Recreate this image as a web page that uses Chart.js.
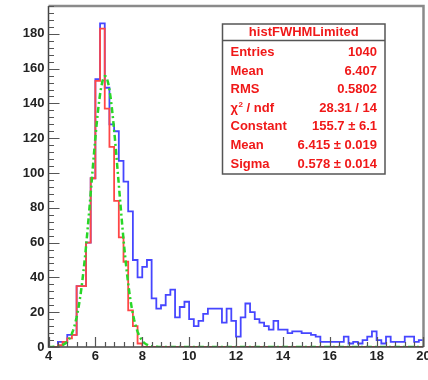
<!DOCTYPE html>
<html>
<head>
<meta charset="utf-8">
<title>histFWHMLimited</title>
<script src="https://cdn.jsdelivr.net/npm/chart.js@4.4.1/dist/chart.umd.min.js"></script>
<style>
  html, body { margin: 0; padding: 0; background: #fff; }
  canvas { display: block; }
</style>
</head>
<body>
<canvas id="histChart" width="428" height="380"></canvas>
<script>
// binning: 80 bins of 0.2 between 4 and 20
const xMin = 4;
const xMax = 20;
const binWidth = 0.2;
const yMax = 196;

// FWHM, all entries (blue)
const countsAll = [
  0, 0, 3, 3, 7,
  7, 35, 35, 60, 97,
  154, 186, 149, 128, 124,
  107, 95, 78, 50, 40,
  46, 50, 28, 22, 24,
  30, 33, 17, 23, 26,
  16, 12, 15, 19, 22,
  22, 22, 14, 22, 15,
  6, 17, 25, 20, 16,
  14, 12, 10, 15, 10,
  10, 8, 9, 9, 8,
  8, 7, 6, 3, 3,
  3, 3, 3, 6, 2,
  3, 2, 4, 6, 9,
  4, 2, 6, 3, 3,
  3, 6, 6, 3, 4
];

// FWHM, limited selection (red)
const countsLimited = [
  0, 0, 1, 3, 5,
  7, 35, 35, 60, 97,
  153, 183, 137, 115, 84,
  63, 49, 21, 12, 2,
  0, 0, 0, 0, 0, 0, 0, 0, 0, 0,
  0, 0, 0, 0, 0, 0, 0, 0, 0, 0,
  0, 0, 0, 0, 0, 0, 0, 0, 0, 0,
  0, 0, 0, 0, 0, 0, 0, 0, 0, 0,
  0, 0, 0, 0, 0, 0, 0, 0, 0, 0
];

// gaussian fit parameters
const fitConstant = 155.7;
const fitMean = 6.415;
const fitSigma = 0.578;
const fitStep = 0.05;

const xTicks = [4, 6, 8, 10, 12, 14, 16, 18, 20];
const yTicks = [0, 20, 40, 60, 80, 100, 120, 140, 160, 180];
const xMinorStep = 0.4;
const yMinorStep = 4;

const statsTitle = 'histFWHMLimited';
const statsLabels = ['Entries', 'Mean', 'RMS', 'χ2 / ndf', 'Constant', 'Mean', 'Sigma'];
const statsValues = ['1040', '6.407', '0.5802', '28.31 / 14', '155.7 ± 6.1', '6.415 ± 0.019', '0.578 ± 0.014'];

const FONT = "'Liberation Sans', Arial, Helvetica, sans-serif";

// step outline: edge points plus bin centres, stepped at the midpoints
function histPoints(counts) {
  const pts = [{ x: xMin, y: counts[0] }];
  counts.forEach((c, i) => pts.push({ x: xMin + (i + 0.5) * binWidth, y: c }));
  pts.push({ x: xMax, y: counts[counts.length - 1] });
  return pts;
}

function gausPoints() {
  const pts = [];
  const n = Math.round((xMax - xMin) / fitStep);
  for (let i = 0; i <= n; i++) {
    const x = xMin + i * fitStep;
    const t = (x - fitMean) / fitSigma;
    pts.push({ x: x, y: fitConstant * Math.exp(-0.5 * t * t) });
  }
  return pts;
}

// frame, inward tick marks and the stats box
const frameAndStats = {
  id: 'frameAndStats',
  afterDatasetsDraw(chart) {
    const { ctx, chartArea: a, scales: { x, y } } = chart;
    ctx.save();

    // top and right frame
    ctx.strokeStyle = '#8a8a8a';
    ctx.lineWidth = 2.5;
    ctx.beginPath();
    ctx.moveTo(a.left, a.top);
    ctx.lineTo(a.right, a.top);
    ctx.lineTo(a.right, a.bottom);
    ctx.stroke();

    // axes
    ctx.strokeStyle = '#444';
    ctx.lineWidth = 1.5;
    ctx.beginPath();
    ctx.moveTo(a.left, a.top);
    ctx.lineTo(a.left, a.bottom);
    ctx.lineTo(a.right, a.bottom);
    ctx.stroke();

    ctx.lineWidth = 1.2;
    ctx.strokeStyle = '#555';
    ctx.beginPath();
    for (let v = 0; v <= yMax + 1e-6; v += yMinorStep) {
      const py = Math.round(y.getPixelForValue(v)) + 0.5;
      const len = yTicks.includes(Math.round(v)) ? 11 : 5.5;
      ctx.moveTo(a.left, py);
      ctx.lineTo(a.left + len, py);
    }
    for (let v = xMin; v <= xMax + 1e-6; v += xMinorStep) {
      const px = Math.round(x.getPixelForValue(v)) + 0.5;
      const major = xTicks.some(t => Math.abs(t - v) < 1e-6);
      ctx.moveTo(px, a.bottom);
      ctx.lineTo(px, a.bottom - (major ? 10 : 5));
    }
    ctx.stroke();
    ctx.restore();
  },
  afterDraw(chart) {
    const ctx = chart.ctx;
    const bx = 222.5, by = 24, bw = 162.5, bh = 150;
    ctx.save();
    ctx.fillStyle = '#fff';
    ctx.fillRect(bx, by, bw, bh);
    ctx.strokeStyle = '#555';
    ctx.lineWidth = 1.5;
    ctx.strokeRect(bx, by, bw, bh);
    ctx.beginPath();
    ctx.moveTo(bx, by + 16.5);
    ctx.lineTo(bx + bw, by + 16.5);
    ctx.stroke();

    ctx.fillStyle = '#f01818';
    ctx.font = 'bold 13px ' + FONT;
    ctx.textBaseline = 'middle';
    ctx.textAlign = 'center';
    ctx.fillText(statsTitle, bx + bw / 2, by + 8.5);

    statsLabels.forEach((label, i) => {
      const ty = by + 28.5 + i * 18.6;
      ctx.textAlign = 'left';
      if (label.startsWith('χ2')) {
        ctx.font = 'bold 13px ' + FONT;
        ctx.fillText('χ', bx + 8, ty);
        const w = ctx.measureText('χ').width;
        ctx.font = 'bold 8px ' + FONT;
        ctx.fillText('2', bx + 8 + w + 0.5, ty - 4);
        ctx.font = 'bold 13px ' + FONT;
        ctx.fillText(label.slice(2), bx + 8 + w + 5, ty);
      } else {
        ctx.font = 'bold 13px ' + FONT;
        ctx.fillText(label, bx + 8, ty);
      }
      ctx.textAlign = 'right';
      ctx.fillText(statsValues[i], bx + bw - 8, ty);
    });
    ctx.restore();
  }
};

const tickFont = { family: FONT, size: 13, weight: 'bold' };

new Chart(document.getElementById('histChart'), {
  type: 'line',
  data: {
    datasets: [
      {
        label: 'gaus',
        data: gausPoints(),
        borderColor: 'rgb(40, 215, 40)',
        borderWidth: 2.5,
        borderDash: [6, 3, 2, 3],
        pointRadius: 0,
        tension: 0
      },
      {
        label: 'histFWHMLimited',
        data: histPoints(countsLimited),
        borderColor: 'rgb(255, 70, 70)',
        borderWidth: 1.8,
        stepped: 'middle',
        pointRadius: 0
      },
      {
        label: 'histFWHM',
        data: histPoints(countsAll),
        borderColor: 'rgb(70, 70, 255)',
        borderWidth: 1.8,
        stepped: 'middle',
        pointRadius: 0
      }
    ]
  },
  options: {
    responsive: false,
    animation: false,
    devicePixelRatio: 1,
    layout: { padding: { left: 0, right: 4.5, top: 6, bottom: 0 } },
    plugins: {
      legend: { display: false },
      tooltip: { enabled: false }
    },
    scales: {
      x: {
        type: 'linear',
        min: xMin,
        max: xMax,
        afterBuildTicks: s => { s.ticks = xTicks.map(v => ({ value: v })); },
        afterFit: s => { s.height = 33; s.paddingLeft = 0; s.paddingRight = 0; },
        ticks: { font: tickFont, color: '#222', padding: 2, maxRotation: 0, autoSkip: false },
        grid: { display: false, drawTicks: false },
        border: { display: false }
      },
      y: {
        type: 'linear',
        min: 0,
        max: yMax,
        afterBuildTicks: s => { s.ticks = yTicks.map(v => ({ value: v })); },
        afterFit: s => { s.width = 48.5; s.paddingTop = 0; s.paddingBottom = 0; },
        ticks: { font: tickFont, color: '#222', padding: 4 },
        grid: { display: false, drawTicks: false },
        border: { display: false }
      }
    }
  },
  plugins: [frameAndStats]
});
</script>
</body>
</html>
